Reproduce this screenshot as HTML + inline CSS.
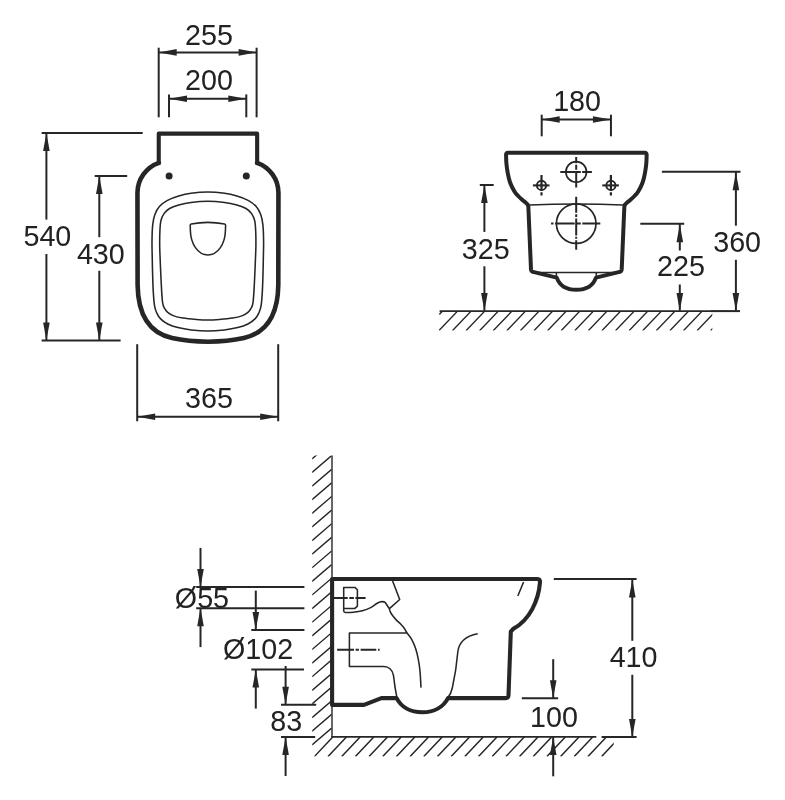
<!DOCTYPE html>
<html><head><meta charset="utf-8"><title>Dimensions</title>
<style>
html,body{margin:0;padding:0;background:#fff;}
body{width:785px;height:800px;overflow:hidden;font-family:"Liberation Sans",sans-serif;}
svg{display:block;will-change:transform;filter:blur(0.35px);}
svg text{font-family:"Liberation Sans",sans-serif;}
</style></head><body>
<svg width="785" height="800" viewBox="0 0 785 800" stroke="#262626" fill="none" stroke-linecap="butt">
<rect x="0" y="0" width="785" height="800" fill="#ffffff" stroke="none"/>
<line x1="158.70" y1="47.70" x2="158.70" y2="117.30" stroke-width="2.0" />
<line x1="256.60" y1="47.70" x2="256.60" y2="117.30" stroke-width="2.0" />
<line x1="158.70" y1="52.40" x2="256.60" y2="52.40" stroke-width="2.0" />
<polygon points="158.70,52.40 176.70,49.10 176.70,55.70" fill="#262626" stroke="none"/>
<polygon points="256.60,52.40 238.60,55.70 238.60,49.10" fill="#262626" stroke="none"/>
<line x1="169.00" y1="94.40" x2="169.00" y2="117.30" stroke-width="2.0" />
<line x1="246.30" y1="94.40" x2="246.30" y2="117.30" stroke-width="2.0" />
<line x1="169.00" y1="98.80" x2="246.30" y2="98.80" stroke-width="2.0" />
<polygon points="169.00,98.80 187.00,95.50 187.00,102.10" fill="#262626" stroke="none"/>
<polygon points="246.30,98.80 228.30,102.10 228.30,95.50" fill="#262626" stroke="none"/>
<line x1="41.60" y1="132.90" x2="142.70" y2="132.90" stroke-width="2.0" />
<line x1="41.60" y1="340.60" x2="120.60" y2="340.60" stroke-width="2.0" />
<line x1="46.40" y1="132.90" x2="46.40" y2="219.60" stroke-width="2.0" />
<line x1="46.40" y1="254.00" x2="46.40" y2="340.60" stroke-width="2.0" />
<polygon points="46.40,132.90 49.70,150.90 43.10,150.90" fill="#262626" stroke="none"/>
<polygon points="46.40,340.60 43.10,322.60 49.70,322.60" fill="#262626" stroke="none"/>
<line x1="94.70" y1="176.00" x2="127.20" y2="176.00" stroke-width="2.0" />
<line x1="99.30" y1="176.00" x2="99.30" y2="237.20" stroke-width="2.0" />
<line x1="99.30" y1="270.80" x2="99.30" y2="340.60" stroke-width="2.0" />
<polygon points="99.30,176.00 102.60,194.00 96.00,194.00" fill="#262626" stroke="none"/>
<polygon points="99.30,340.60 96.00,322.60 102.60,322.60" fill="#262626" stroke="none"/>
<line x1="137.20" y1="344.20" x2="137.20" y2="421.30" stroke-width="2.0" />
<line x1="278.20" y1="344.20" x2="278.20" y2="421.30" stroke-width="2.0" />
<line x1="137.20" y1="416.70" x2="278.20" y2="416.70" stroke-width="2.0" />
<polygon points="137.20,416.70 155.20,413.40 155.20,420.00" fill="#262626" stroke="none"/>
<polygon points="278.20,416.70 260.20,420.00 260.20,413.40" fill="#262626" stroke="none"/>
<path d="M158.75,162.8 A32,32 0 0 0 137.45,192.7 L137.6,285 C138,315 150,333 172,338 C185,340.8 198,341.6 207.95,341.7 C217.90,341.6 230.90,340.8 243.90,338 C265.90,333 277.90,315 278.30,285 L278.45,192.7 A32,32 0 0 0 257.15,162.8" stroke-width="4.6" fill="none" stroke-linejoin="round" stroke-linecap="round"/>
<path d="M158.75,163.2 L158.75,133.65 L257.15,133.65 L257.15,163.2" stroke-width="4.1" fill="none" stroke-linejoin="round" stroke-linecap="round"/>
<path d="M207.80,192.00 C202.20,192.00 195.85,192.62 191.00,193.30 C186.15,193.98 182.62,194.92 178.70,196.10 C174.78,197.28 170.72,198.67 167.50,200.40 C164.28,202.13 161.52,204.12 159.40,206.50 C157.28,208.88 155.92,211.63 154.80,214.70 C153.68,217.77 153.17,220.48 152.70,224.90 C152.23,229.32 152.07,235.35 152.00,241.20 C151.93,247.05 152.22,255.20 152.30,260.00 C152.38,264.80 152.35,264.93 152.50,270.00 C152.65,275.07 152.87,284.45 153.20,290.40 C153.53,296.35 153.92,301.97 154.50,305.70 C155.08,309.43 155.68,310.60 156.70,312.80 C157.72,315.00 158.77,317.03 160.60,318.90 C162.43,320.77 164.82,322.55 167.70,324.00 C170.58,325.45 173.98,326.62 177.90,327.60 C181.82,328.58 186.22,329.33 191.20,329.90 C196.18,330.47 202.27,331.00 207.80,331.00 C213.33,331.00 219.42,330.47 224.40,329.90 C229.38,329.33 233.78,328.58 237.70,327.60 C241.62,326.62 245.02,325.45 247.90,324.00 C250.78,322.55 253.17,320.77 255.00,318.90 C256.83,317.03 257.88,315.00 258.90,312.80 C259.92,310.60 260.52,309.43 261.10,305.70 C261.68,301.97 262.07,296.35 262.40,290.40 C262.73,284.45 262.95,275.07 263.10,270.00 C263.25,264.93 263.22,264.80 263.30,260.00 C263.38,255.20 263.67,247.05 263.60,241.20 C263.53,235.35 263.37,229.32 262.90,224.90 C262.43,220.48 261.92,217.77 260.80,214.70 C259.68,211.63 258.32,208.88 256.20,206.50 C254.08,204.12 251.32,202.13 248.10,200.40 C244.88,198.67 240.82,197.28 236.90,196.10 C232.98,194.92 229.45,193.98 224.60,193.30 C219.75,192.62 213.40,192.00 207.80,192.00 Z" stroke-width="1.55" fill="none"/>
<path d="M207.80,201.20 C202.20,201.20 195.85,201.77 191.00,202.40 C186.15,203.03 182.27,203.98 178.70,205.00 C175.13,206.02 172.05,207.07 169.60,208.50 C167.15,209.93 165.45,211.55 164.00,213.60 C162.55,215.65 161.58,217.90 160.90,220.80 C160.22,223.70 160.10,226.75 159.90,231.00 C159.70,235.25 159.65,241.47 159.70,246.30 C159.75,251.13 160.05,256.05 160.20,260.00 C160.35,263.95 160.37,264.93 160.60,270.00 C160.83,275.07 161.27,284.97 161.60,290.40 C161.93,295.83 162.18,299.72 162.60,302.60 C163.02,305.48 163.25,306.08 164.10,307.70 C164.95,309.32 166.08,310.93 167.70,312.30 C169.32,313.67 171.25,314.93 173.80,315.90 C176.35,316.87 179.25,317.52 183.00,318.10 C186.75,318.68 192.17,319.10 196.30,319.40 C200.43,319.70 203.97,319.90 207.80,319.90 C211.63,319.90 215.17,319.70 219.30,319.40 C223.43,319.10 228.85,318.68 232.60,318.10 C236.35,317.52 239.25,316.87 241.80,315.90 C244.35,314.93 246.28,313.67 247.90,312.30 C249.52,310.93 250.65,309.32 251.50,307.70 C252.35,306.08 252.58,305.48 253.00,302.60 C253.42,299.72 253.67,295.83 254.00,290.40 C254.33,284.97 254.77,275.07 255.00,270.00 C255.23,264.93 255.25,263.95 255.40,260.00 C255.55,256.05 255.85,251.13 255.90,246.30 C255.95,241.47 255.90,235.25 255.70,231.00 C255.50,226.75 255.38,223.70 254.70,220.80 C254.02,217.90 253.05,215.65 251.60,213.60 C250.15,211.55 248.45,209.93 246.00,208.50 C243.55,207.07 240.47,206.02 236.90,205.00 C233.33,203.98 229.45,203.03 224.60,202.40 C219.75,201.77 213.40,201.20 207.80,201.20 Z" stroke-width="1.55" fill="none"/>
<path d="M190.2,225.2 L190.4,231 C190.8,244 198,254.9 207.9,254.9 C217.8,254.9 225,244 225.4,231 L225.6,225.2 Q225.6,224.2 224.6,224.0 Q207.9,220.7 191.2,224.0 Q190.2,224.2 190.2,225.2 Z" stroke-width="1.55" fill="none"/>
<circle cx="169.1" cy="175.9" r="3.5" fill="#262626" stroke="none"/>
<circle cx="246.3" cy="175.9" r="3.5" fill="#262626" stroke="none"/>
<line x1="541.70" y1="114.70" x2="541.70" y2="136.30" stroke-width="2.0" />
<line x1="610.95" y1="114.70" x2="610.95" y2="136.30" stroke-width="2.0" />
<line x1="541.70" y1="119.50" x2="610.95" y2="119.50" stroke-width="2.0" />
<polygon points="541.70,119.50 559.70,116.20 559.70,122.80" fill="#262626" stroke="none"/>
<polygon points="610.95,119.50 592.95,122.80 592.95,116.20" fill="#262626" stroke="none"/>
<line x1="479.80" y1="185.00" x2="493.70" y2="185.00" stroke-width="2.0" />
<line x1="484.40" y1="185.00" x2="484.40" y2="231.90" stroke-width="2.0" />
<line x1="484.40" y1="266.30" x2="484.40" y2="310.70" stroke-width="2.0" />
<polygon points="484.40,185.00 487.70,203.00 481.10,203.00" fill="#262626" stroke="none"/>
<polygon points="484.40,310.90 481.10,292.90 487.70,292.90" fill="#262626" stroke="none"/>
<line x1="661.90" y1="171.80" x2="740.50" y2="171.80" stroke-width="2.0" />
<line x1="735.90" y1="171.80" x2="735.90" y2="225.70" stroke-width="2.0" />
<line x1="735.90" y1="259.80" x2="735.90" y2="310.70" stroke-width="2.0" />
<polygon points="735.90,172.20 739.20,190.20 732.60,190.20" fill="#262626" stroke="none"/>
<polygon points="735.90,310.90 732.60,292.90 739.20,292.90" fill="#262626" stroke="none"/>
<line x1="640.30" y1="223.80" x2="684.20" y2="223.80" stroke-width="2.0" />
<line x1="679.80" y1="223.80" x2="679.80" y2="250.50" stroke-width="2.0" />
<line x1="679.80" y1="284.50" x2="679.80" y2="310.70" stroke-width="2.0" />
<polygon points="679.80,224.20 683.10,242.20 676.50,242.20" fill="#262626" stroke="none"/>
<polygon points="679.80,310.90 676.50,292.90 683.10,292.90" fill="#262626" stroke="none"/>
<line x1="439.60" y1="311.10" x2="711.50" y2="311.10" stroke-width="1.6" />
<line x1="711.00" y1="311.10" x2="740.00" y2="311.10" stroke-width="2.0" />
<clipPath id="cf1"><rect x="439.0" y="311.1" width="273.3" height="19.5"/></clipPath>
<path d="M439.3,314.4 L442.1,311.4 M457.60,311.1 L438.80,330.7 M471.19,311.1 L452.39,330.7 M484.78,311.1 L465.98,330.7 M498.37,311.1 L479.57,330.7 M511.96,311.1 L493.16,330.7 M525.55,311.1 L506.75,330.7 M539.14,311.1 L520.34,330.7 M552.73,311.1 L533.93,330.7 M566.32,311.1 L547.52,330.7 M579.91,311.1 L561.11,330.7 M593.50,311.1 L574.70,330.7 M607.09,311.1 L588.29,330.7 M620.68,311.1 L601.88,330.7 M634.27,311.1 L615.47,330.7 M647.86,311.1 L629.06,330.7 M661.45,311.1 L642.65,330.7 M675.04,311.1 L656.24,330.7 M688.63,311.1 L669.83,330.7 M702.22,311.1 L683.42,330.7 M715.81,311.1 L697.01,330.7 M729.40,311.1 L710.60,330.7" stroke-width="1.4" fill="none" clip-path="url(#cf1)"/>
<path d="M576.35,152.80 L507.80,152.80 C506.60,152.80 506.00,153.40 506.05,154.80 C506.11,156.23 506.12,160.40 506.40,163.40 C506.67,166.40 507.10,169.67 507.70,172.80 C508.30,175.93 508.87,179.08 510.00,182.20 C511.13,185.32 513.13,189.20 514.50,191.50 C515.87,193.80 516.88,194.60 518.20,196.00 C519.52,197.40 521.13,198.78 522.40,199.90 C523.67,201.02 524.93,201.95 525.80,202.70 C526.67,203.45 527.30,204.12 527.60,204.40 L528.35,206.60 L531.00,269.40 C531.10,270.80 531.70,271.60 533.00,271.90 L556.70,277.60 C559.50,285.30 566.30,289.80 576.35,289.80 C586.40,289.80 593.20,285.30 596.00,277.60 L619.70,271.90 C621.00,271.60 621.60,270.80 621.70,269.40 L624.35,206.60 L625.10,204.40 C625.40,204.12 626.03,203.45 626.90,202.70 C627.77,201.95 629.03,201.02 630.30,199.90 C631.57,198.78 633.18,197.40 634.50,196.00 C635.82,194.60 636.83,193.80 638.20,191.50 C639.57,189.20 641.57,185.32 642.70,182.20 C643.83,179.08 644.40,175.93 645.00,172.80 C645.60,169.67 646.03,166.40 646.30,163.40 C646.58,160.40 646.59,156.23 646.65,154.80 C646.70,153.40 646.10,152.80 644.90,152.80 L576.35,152.80 Z" stroke-width="4.0" fill="none" stroke-linejoin="round" />
<path d="M529.5,204.9 Q576.35,202.9 623.20,204.9" stroke-width="1.55" fill="none"/>
<line x1="532.00" y1="272.40" x2="620.70" y2="272.40" stroke-width="1.55" />
<line x1="556.40" y1="272.40" x2="556.40" y2="277.50" stroke-width="1.55" />
<line x1="596.30" y1="272.40" x2="596.30" y2="277.50" stroke-width="1.55" />
<circle cx="576.2" cy="171.9" r="10.3" stroke-width="1.7" fill="none"/>
<line x1="560.30" y1="171.90" x2="591.90" y2="171.90" stroke-width="2.0" stroke-dasharray="15.4 1.3 3.8 1.3 30"/>
<line x1="576.20" y1="157.00" x2="576.20" y2="187.60" stroke-width="2.0" stroke-dasharray="6.3 1.4 5 1.3 30"/>
<circle cx="576.2" cy="223.6" r="19.8" stroke-width="1.7" fill="none"/>
<line x1="551.10" y1="223.60" x2="600.30" y2="223.60" stroke-width="2.0" stroke-dasharray="2.4 1.6 19.6 1.5 4.6 1.5 30"/>
<line x1="576.20" y1="196.80" x2="576.20" y2="249.80" stroke-width="2.0" stroke-dasharray="16 1.5 2.6 1.5 17 1.4 2 1.4 30"/>
<circle cx="541.5" cy="185.4" r="4.6" stroke-width="1.9" fill="none"/>
<line x1="532.90" y1="185.40" x2="549.50" y2="185.40" stroke-width="2.1" stroke-dasharray="30"/>
<line x1="541.50" y1="174.90" x2="541.50" y2="195.40" stroke-width="2.2" stroke-dasharray="15.9 1.4 3.2"/>
<circle cx="610.9" cy="185.4" r="4.6" stroke-width="1.9" fill="none"/>
<line x1="602.30" y1="185.40" x2="618.90" y2="185.40" stroke-width="2.1" stroke-dasharray="30"/>
<line x1="610.90" y1="174.90" x2="610.90" y2="195.40" stroke-width="2.2" stroke-dasharray="15.9 1.4 3.2"/>
<line x1="332.00" y1="455.60" x2="332.00" y2="737.10" stroke-width="1.4" />
<line x1="331.40" y1="736.90" x2="596.30" y2="736.90" stroke-width="1.6" />
<line x1="601.60" y1="736.90" x2="636.60" y2="736.90" stroke-width="2.0" />
<clipPath id="cw"><rect x="312.2" y="455.6" width="19.5" height="292"/></clipPath>
<path d="M331.7,441.98 L312.0,458.88 M331.7,455.60 L312.0,472.50 M331.7,469.22 L312.0,486.12 M331.7,482.84 L312.0,499.74 M331.7,496.46 L312.0,513.36 M331.7,510.08 L312.0,526.98 M331.7,523.70 L312.0,540.60 M331.7,537.32 L312.0,554.22 M331.7,550.94 L312.0,567.84 M331.7,564.56 L312.0,581.46 M331.7,578.18 L312.0,595.08 M331.7,591.80 L312.0,608.70 M331.7,605.42 L312.0,622.32 M331.7,619.04 L312.0,635.94 M331.7,632.66 L312.0,649.56 M331.7,646.28 L312.0,663.18 M331.7,659.90 L312.0,676.80 M331.7,673.52 L312.0,690.42 M331.7,687.14 L312.0,704.04 M331.7,700.76 L312.0,717.66 M331.7,714.38 L312.0,731.28 M331.7,728.00 L312.0,744.90" stroke-width="1.4" fill="none" clip-path="url(#cw)"/>
<clipPath id="cf2"><rect x="314.3" y="736.9" width="299.4" height="19.7"/></clipPath>
<path d="M332.80,736.9 L314.30,756.6 M346.48,736.9 L327.98,756.6 M360.16,736.9 L341.66,756.6 M373.84,736.9 L355.34,756.6 M387.52,736.9 L369.02,756.6 M401.20,736.9 L382.70,756.6 M414.88,736.9 L396.38,756.6 M428.56,736.9 L410.06,756.6 M442.24,736.9 L423.74,756.6 M455.92,736.9 L437.42,756.6 M469.60,736.9 L451.10,756.6 M483.28,736.9 L464.78,756.6 M496.96,736.9 L478.46,756.6 M510.64,736.9 L492.14,756.6 M524.32,736.9 L505.82,756.6 M538.00,736.9 L519.50,756.6 M551.68,736.9 L533.18,756.6 M565.36,736.9 L546.86,756.6 M579.04,736.9 L560.54,756.6 M592.72,736.9 L574.22,756.6 M606.40,736.9 L587.90,756.6 M620.08,736.9 L601.58,756.6 M633.76,736.9 L615.26,756.6" stroke-width="1.4" fill="none" clip-path="url(#cf2)"/>
<line x1="196.20" y1="586.90" x2="304.40" y2="586.90" stroke-width="2.0" />
<line x1="196.20" y1="608.30" x2="304.40" y2="608.30" stroke-width="2.0" />
<line x1="200.50" y1="547.90" x2="200.50" y2="586.90" stroke-width="2.0" />
<line x1="200.50" y1="608.30" x2="200.50" y2="647.10" stroke-width="2.0" />
<polygon points="200.50,586.90 197.20,568.90 203.80,568.90" fill="#262626" stroke="none"/>
<polygon points="200.50,608.30 203.80,626.30 197.20,626.30" fill="#262626" stroke="none"/>
<line x1="251.30" y1="629.90" x2="304.40" y2="629.90" stroke-width="2.0" />
<line x1="251.30" y1="669.50" x2="304.00" y2="669.50" stroke-width="2.0" />
<line x1="255.80" y1="590.60" x2="255.80" y2="629.90" stroke-width="2.0" />
<line x1="255.80" y1="669.50" x2="255.80" y2="708.60" stroke-width="2.0" />
<polygon points="255.80,629.90 252.50,611.90 259.10,611.90" fill="#262626" stroke="none"/>
<polygon points="255.80,669.50 259.10,687.50 252.50,687.50" fill="#262626" stroke="none"/>
<line x1="281.00" y1="704.80" x2="316.20" y2="704.80" stroke-width="2.0" />
<line x1="281.00" y1="736.90" x2="315.20" y2="736.90" stroke-width="2.0" />
<line x1="285.60" y1="666.00" x2="285.60" y2="704.80" stroke-width="2.0" />
<line x1="285.60" y1="736.90" x2="285.60" y2="776.00" stroke-width="2.0" />
<polygon points="285.60,704.80 282.30,686.80 288.90,686.80" fill="#262626" stroke="none"/>
<polygon points="285.60,736.90 288.90,754.90 282.30,754.90" fill="#262626" stroke="none"/>
<line x1="553.80" y1="579.00" x2="636.60" y2="579.00" stroke-width="2.0" />
<line x1="632.30" y1="579.00" x2="632.30" y2="640.80" stroke-width="2.0" />
<line x1="632.30" y1="674.80" x2="632.30" y2="736.70" stroke-width="2.0" />
<polygon points="632.30,579.40 635.60,597.40 629.00,597.40" fill="#262626" stroke="none"/>
<polygon points="632.30,736.90 629.00,718.90 635.60,718.90" fill="#262626" stroke="none"/>
<line x1="521.80" y1="698.30" x2="558.10" y2="698.30" stroke-width="2.0" />
<line x1="553.20" y1="659.20" x2="553.20" y2="698.30" stroke-width="2.0" />
<line x1="553.20" y1="736.90" x2="553.20" y2="776.30" stroke-width="2.0" />
<polygon points="553.20,698.30 549.90,680.30 556.50,680.30" fill="#262626" stroke="none"/>
<polygon points="553.20,736.90 556.50,754.90 549.90,754.90" fill="#262626" stroke="none"/>
<path d="M332.1,578.95 L536.8,578.95 Q540.3,578.95 540.0,582.3 C538.6,600 530,620 513.2,628.9 L510.8,631.7 L508.5,695.6 Q508.4,698.1 505.8,698.1 L448.0,698.1 C443.5,706.9 434,712.3 422.4,712.3 C410.5,712.3 401,706.9 396.6,698.1 L381.4,698.1 L364.0,704.9 L332.1,704.9 Z" stroke-width="4.1" fill="none" stroke-linejoin="round"/>
<path d="M392.6,581.0 L399.7,599.5 L389.4,608.7 L384.9,602.0 M384.90,602.00 C384.23,601.95 382.25,601.45 380.90,601.70 C379.55,601.95 378.50,602.52 376.80,603.50 C375.10,604.48 373.08,606.40 370.70,607.60 C368.32,608.80 365.40,609.93 362.50,610.70 C359.60,611.47 356.15,611.90 353.30,612.20 C350.45,612.50 346.72,612.45 345.40,612.50  Q343.7,612.5 343.7,610.8 L343.7,587.4 L354.9,587.4 L357.4,589.8 L357.4,606.1 L354.9,608.4 L343.7,608.4 M389.40,608.70 C389.55,609.23 389.83,610.85 390.30,611.90 C390.77,612.95 391.22,613.67 392.20,615.00 C393.18,616.33 394.80,618.40 396.20,619.90 C397.60,621.40 399.27,622.62 400.60,624.00 C401.93,625.38 403.15,626.73 404.20,628.20 C405.25,629.67 405.63,630.90 406.90,632.80 C408.17,634.70 410.33,636.93 411.80,639.60 C413.27,642.27 414.62,645.52 415.70,648.80 C416.78,652.08 417.58,655.58 418.30,659.30 C419.02,663.02 419.55,666.38 420.00,671.10 C420.45,675.82 420.83,684.85 421.00,687.60  M406.9,633.0 L349.4,633.0 L349.4,666.5 L384.0,666.5 C389,666.7 392.5,670.5 393.4,675.1 C394.2,680 394.6,684 394.9,686.5 L396.7,696.6 M477.7,633.8 C466,636 459,641.5 457.8,652 C456.8,664 455,676 452.3,688 Q451,694 447.4,698.6 M523.6,582 L517.8,596" stroke-width="1.55" fill="none" stroke-linejoin="round"/>
<line x1="332" y1="597.9" x2="365.6" y2="597.9" stroke-width="2.0" stroke-dasharray="15.7 1.6 4.6 1.5 11"/>
<line x1="337.1" y1="649.8" x2="379.6" y2="649.8" stroke-width="2.0" stroke-dasharray="16.9 1.6 3.3 1.7 15.7 1.7 1.6 5"/>
<text x="209.00" y="44.50" font-size="28.7" text-anchor="middle" fill="#222222" stroke="none">255</text>
<text x="209.00" y="90.25" font-size="28.7" text-anchor="middle" fill="#222222" stroke="none">200</text>
<text x="47.40" y="246.45" font-size="28.7" text-anchor="middle" fill="#222222" stroke="none">540</text>
<text x="100.85" y="263.55" font-size="28.7" text-anchor="middle" fill="#222222" stroke="none">430</text>
<text x="209.00" y="408.05" font-size="28.7" text-anchor="middle" fill="#222222" stroke="none">365</text>
<text x="577.10" y="111.15" font-size="28.7" text-anchor="middle" fill="#222222" stroke="none">180</text>
<text x="485.70" y="258.55" font-size="28.7" text-anchor="middle" fill="#222222" stroke="none">325</text>
<text x="737.15" y="252.45" font-size="28.7" text-anchor="middle" fill="#222222" stroke="none">360</text>
<text x="681.00" y="276.35" font-size="28.7" text-anchor="middle" fill="#222222" stroke="none">225</text>
<text x="201.95" y="607.65" font-size="28.7" text-anchor="middle" fill="#222222" stroke="none">Ø55</text>
<text x="258.10" y="659.45" font-size="28.7" text-anchor="middle" fill="#222222" stroke="none">Ø102</text>
<text x="286.25" y="731.25" font-size="28.7" text-anchor="middle" fill="#222222" stroke="none">83</text>
<text x="633.60" y="667.15" font-size="28.7" text-anchor="middle" fill="#222222" stroke="none">410</text>
<text x="554.05" y="727.25" font-size="28.7" text-anchor="middle" fill="#222222" stroke="none">100</text>
</svg>
</body></html>
